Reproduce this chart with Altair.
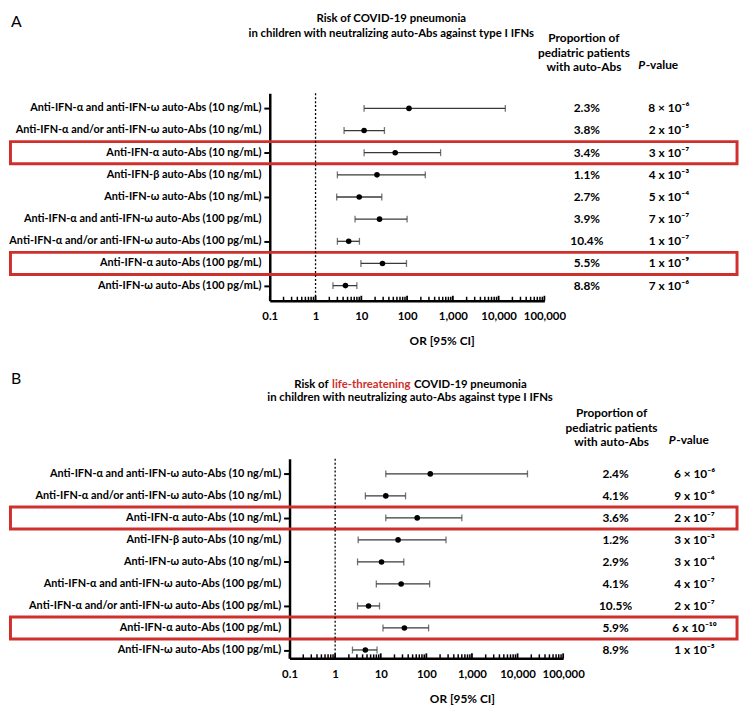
import json
import altair as alt
import pandas as pd

FONT = "Lato"
RED = "#d0302c"
EB = "#3a3a3a"

labels = [
    "Anti-IFN-α and anti-IFN-ω auto-Abs (10 ng/mL)",
    "Anti-IFN-α and/or anti-IFN-ω auto-Abs (10 ng/mL)",
    "Anti-IFN-α auto-Abs (10 ng/mL)",
    "Anti-IFN-β auto-Abs (10 ng/mL) ",
    "Anti-IFN-ω auto-Abs (10 ng/mL)",
    "Anti-IFN-α and anti-IFN-ω auto-Abs (100 pg/mL)",
    "Anti-IFN-α and/or anti-IFN-ω auto-Abs (100 pg/mL)",
    "Anti-IFN-α auto-Abs (100 pg/mL)",
    "Anti-IFN-ω auto-Abs (100 pg/mL)",
]
rows = [1, 2, 3, 4, 5, 6, 7, 8, 9]
highlight_rows = [3, 8]

# Panel A: risk of COVID-19 pneumonia
or_a = [110, 11.5, 55, 22, 9.0, 25, 5.3, 29, 4.5]
lo_a = [11.5, 4.2, 11.5, 3.0, 2.9, 7.3, 3.0, 9.8, 2.4]
hi_a = [14000, 32, 540, 250, 28, 100, 9.1, 97, 8.0]
prop_a = ["2.3%", "3.8%", "3.4%", "1.1%", "2.7%", "3.9%", "10.4%", "5.5%", "8.8%"]
p_a = ["8 × 10⁻⁶", "2 x 10⁻⁵", "3 x 10⁻⁷", "4 x 10⁻³", "5 x  10⁻⁴",
       "7 x 10⁻⁷", "1 x 10⁻⁷", "1 x 10⁻⁹", "7 x 10⁻⁶"]

# Panel B: risk of life-threatening COVID-19 pneumonia
or_b = [122, 12.9, 63, 24, 10.4, 28, 5.4, 33, 4.6]
lo_b = [12.9, 4.6, 12.9, 3.2, 3.1, 8.0, 3.1, 11.2, 2.4]
hi_b = [16500, 35, 600, 270, 32, 118, 9.4, 112, 8.3]
prop_b = ["2.4%", "4.1%", "3.6%", "1.2%", "2.9%", "4.1%", "10.5%", "5.9%", "8.9%"]
p_b = ["6 × 10⁻⁶", "9 x 10⁻⁶", "2 x 10⁻⁷", "3 x 10⁻³", "3 x  10⁻⁴",
       "4 x 10⁻⁷", "2 x 10⁻⁷", "6 x 10⁻¹⁰", "1 x 10⁻⁵"]

major_ticks = [0.1, 1, 10, 100, 1000, 10000, 100000]
tick_labels = ["0.1", "1", "10", "100", "1,000", "10,000", "100,000"]
minor_ticks = [m * d for d in [0.1, 1, 10, 100, 1000, 10000] for m in range(2, 10)]

title_lines_a = ["Risk of COVID-19 pneumonia",
                 "in children with neutralizing auto-Abs against type I IFNs"]
title_b_parts = ["Risk of", "life-threatening", "COVID-19 pneumonia"]
header_lines = ["Proportion of", "pediatric patients", "with auto-Abs"]

FS = 12
TFS = 11.5


def txt(text, x, y, size=FS, weight="bold", align="center", color="black", style="normal"):
    return alt.Chart(alt.Data(values=[{}])).mark_text(
        text=text, font=FONT, fontSize=size, fontWeight=weight, align=align,
        baseline="middle", color=color, fontStyle=style,
    ).encode(x=alt.value(x), y=alt.value(y))


def spacer(y):
    # invisible rule that fixes the panel's vertical extent
    return alt.Chart(alt.Data(values=[{}])).mark_rule(opacity=0, strokeWidth=1).encode(
        x=alt.value(0), x2=alt.value(10), y=alt.value(y))


def panel(cfg, ors, los, his, props, ps):
    W, H, sh = cfg["w"], cfg["h"], cfg["shift"]
    df = pd.DataFrame({"row": rows, "label": labels, "or": ors, "lo": los, "hi": his,
                       "prop": props, "p": ps})
    xlab = json.dumps(tick_labels) + "[indexof(" + json.dumps(major_ticks) + ", datum.value)]"
    xs = alt.Scale(type="log", domain=[0.1, 100000], nice=False, range=[sh, W])
    ys = alt.Scale(domain=[cfg["d0"], cfg["d1"]], reverse=True, nice=False, zero=False)
    x_axis = alt.Axis(values=major_ticks, labelExpr=xlab, ticks=False, tickSize=0, grid=False,
                      domainWidth=2.5, domainColor="black", labelFont=FONT, labelFontSize=11.5,
                      labelFontWeight="bold", labelColor="black", labelPadding=10,
                      labelFlush=False, labelOverlap=False,
                      title="OR [95% CI]", titleFont=FONT, titleFontSize=FS,
                      titleFontWeight="bold", titleColor="black", titlePadding=14,
                      titleX=cfg["title_x"])
    y_axis = alt.Axis(values=rows, labels=False, ticks=True, tickSize=6, tickWidth=2,
                      tickColor="black", domainWidth=2.5, domainColor="black", grid=False,
                      title=None, offset=-sh)
    base = alt.Chart(df)
    whisk = base.mark_rule(color=EB, strokeWidth=1.3).encode(
        x=alt.X("lo:Q", scale=xs, axis=x_axis), x2="hi:Q",
        y=alt.Y("row:Q", scale=ys, axis=y_axis))
    cap_lo = base.mark_tick(orient="vertical", size=7, thickness=1.3, color=EB).encode(
        x="lo:Q", y="row:Q")
    cap_hi = base.mark_tick(orient="vertical", size=7, thickness=1.3, color=EB).encode(
        x="hi:Q", y="row:Q")
    pts = base.mark_circle(size=32, color="black", opacity=1).encode(x="or:Q", y="row:Q")
    dotted = alt.Chart(alt.Data(values=[{"v": 1}])).mark_rule(
        strokeDash=[2, 2], strokeWidth=1.3, color="black").encode(
        x="v:Q", y=alt.value(0), y2=alt.value(H))
    mticks = alt.Chart(pd.DataFrame({"t": minor_ticks})).mark_rule(
        strokeWidth=1.5, color="black").encode(x="t:Q", y=alt.value(H - 4), y2=alt.value(H))
    Mticks = alt.Chart(pd.DataFrame({"t": major_ticks})).mark_rule(
        strokeWidth=1.8, color="black").encode(x="t:Q", y=alt.value(H - 5), y2=alt.value(H))
    boxes = base.transform_filter(
        alt.FieldOneOfPredicate(field="row", oneOf=highlight_rows)
    ).transform_calculate(r0="datum.row - 0.5", r1="datum.row + 0.5").mark_rect(
        fillOpacity=0, stroke=RED, strokeWidth=3).encode(
        x=alt.value(-262.5), x2=alt.value(473), y="r0:Q", y2="r1:Q")
    tlab = base.mark_text(font=FONT, fontSize=11, fontWeight="bold", align="right",
                          color="black").encode(x=alt.value(sh - 8.5), y="row:Q", text="label:N")
    tprop = base.mark_text(font=FONT, fontSize=FS, fontWeight="bold", align="center",
                           color="black").encode(x=alt.value(cfg["prop_x"]), y="row:Q", text="prop:N")
    tp = base.mark_text(font=FONT, fontSize=FS, fontWeight="bold", align="center",
                        color="black").encode(x=alt.value(cfg["p_x"]), y="row:Q", text="p:N")
    extra = [txt(cfg["letter"], -262, cfg["letter_y"], size=16, weight="normal", align="left")]
    for line, y in zip(header_lines, cfg["hdr_y"]):
        extra.append(txt(line, cfg["hdr_x"], y))
    extra.append(txt("P", cfg["pv_x"], cfg["pv_y"], align="left", style="italic"))
    extra.append(txt("-value", cfg["pv_x"] + 7.5, cfg["pv_y"], align="left"))
    extra += cfg["titles"]
    extra += [spacer(cfg["top"]), spacer(cfg["bottom"])]
    return alt.layer(boxes, dotted, whisk, cap_lo, cap_hi, pts, mticks, Mticks, tlab, tprop, tp,
                     *extra).properties(width=W, height=H)


cfg_a = dict(w=278, h=210, shift=0, d0=0.318, d1=9.681, prop_x=321, title_x=174,
             p_x=404, letter="A", letter_y=-72.4, hdr_x=318, top=-82, bottom=262,
             hdr_y=[-56, -41, -26.5], pv_x=373, pv_y=-29,
             titles=[txt(title_lines_a[0], 123, -74.8, size=TFS),
                     txt(title_lines_a[1], 123, -59.5, size=TFS)])
cfg_b = dict(w=297, h=202, shift=20, d0=0.313, d1=9.379, prop_x=350, title_x=194.5,
             p_x=430, letter="B", letter_y=-81, hdr_x=346, top=-92, bottom=240,
             hdr_y=[-46, -31, -16.5], pv_x=404, pv_y=-19,
             titles=[txt(title_b_parts[0], 59.5, -75, align="right", size=TFS),
                     txt(title_b_parts[1], 102.7, -75, align="center", color=RED, size=TFS),
                     txt(title_b_parts[2], 146, -75, align="left", size=TFS),
                     txt(title_lines_a[1], 142, -61, size=TFS)])

pa = panel(cfg_a, or_a, lo_a, hi_a, prop_a, p_a)
pb = panel(cfg_b, or_b, lo_b, hi_b, prop_b, p_b)

chart = alt.vconcat(pa, pb, spacing=16).properties(padding=0).configure_view(stroke=None)
chart.save("out.html", embed_options={"renderer": "svg", "actions": False})
